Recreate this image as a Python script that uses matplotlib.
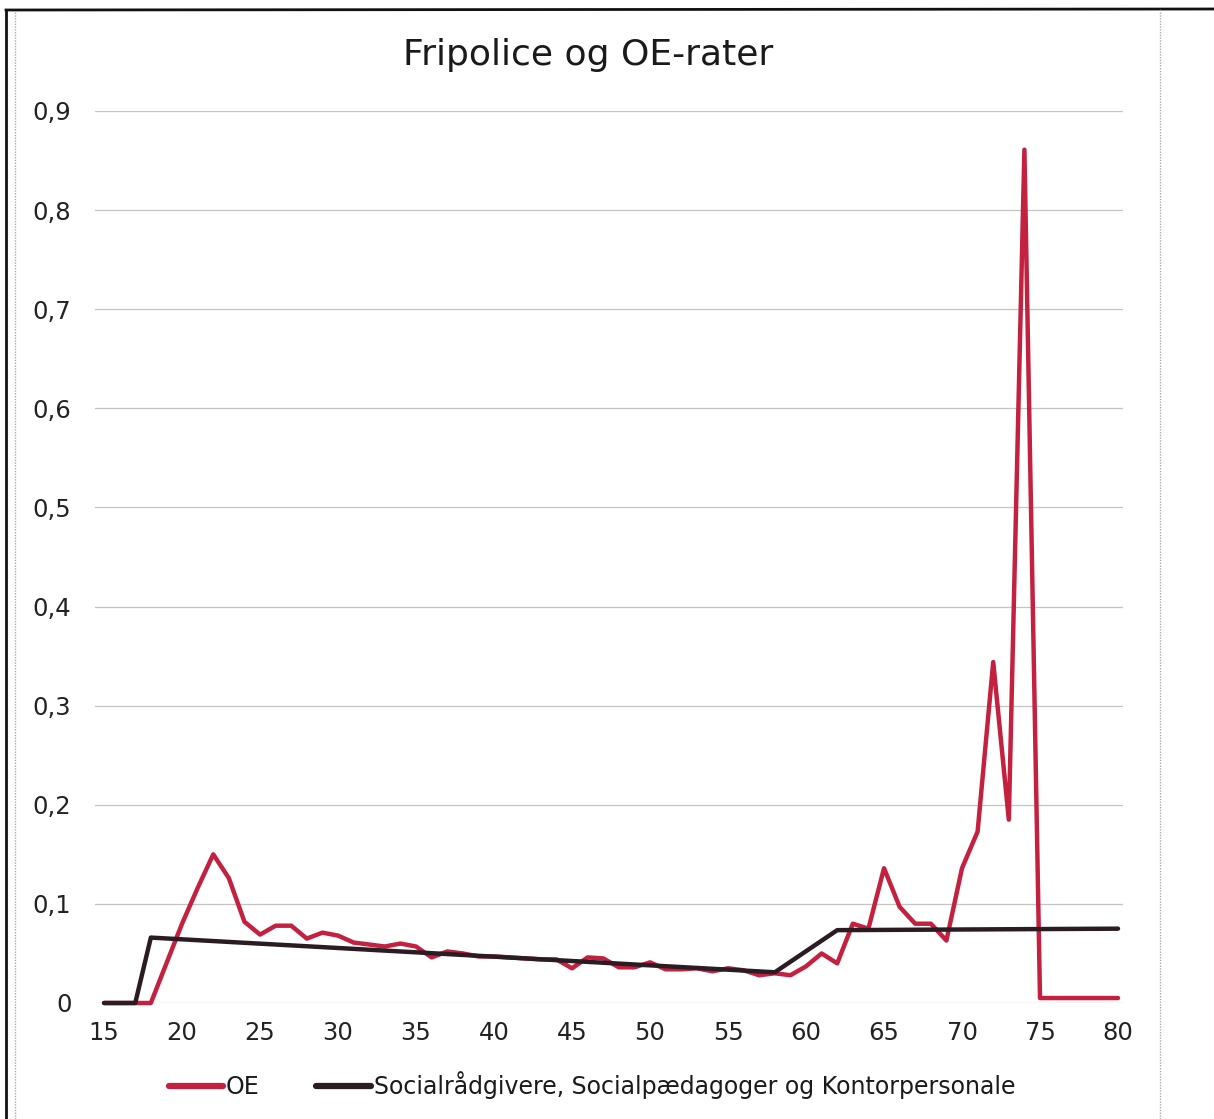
import matplotlib
matplotlib.use("Agg")
import matplotlib.pyplot as plt
from matplotlib.lines import Line2D

# ---- data ----
ages = list(range(15, 81))
oe = [0, 0, 0, 0, 0.040, 0.080, 0.116, 0.150, 0.126, 0.082,
      0.069, 0.078, 0.078, 0.065, 0.071, 0.068, 0.061, 0.059, 0.057, 0.060,
      0.057, 0.046, 0.052, 0.050, 0.047, 0.047, 0.046, 0.045, 0.044, 0.044,
      0.035, 0.046, 0.045, 0.036, 0.036, 0.041, 0.034, 0.034, 0.035, 0.032,
      0.035, 0.033, 0.028, 0.030, 0.028, 0.037, 0.050, 0.040, 0.080, 0.075,
      0.136, 0.097, 0.080, 0.080, 0.063, 0.136, 0.173, 0.344, 0.185, 0.861,
      0.005, 0.005, 0.005, 0.005, 0.005, 0.005]
social_x = [15, 17, 18, 58, 62, 80]
social_y = [0, 0, 0.066, 0.031, 0.0735, 0.075]
xticks = list(range(15, 81, 5))
yticks = [0, 0.1, 0.2, 0.3, 0.4, 0.5, 0.6, 0.7, 0.8, 0.9]
ytick_labels = ["0", "0,1", "0,2", "0,3", "0,4", "0,5", "0,6", "0,7", "0,8", "0,9"]
title = "Fripolice og OE-rater"
label_oe = "OE"
label_social = "Socialrådgivere, Socialpædagoger og Kontorpersonale"

W, H = 1214, 1119
fig = plt.figure(figsize=(W / 100, H / 100), dpi=100)
plt.rcParams['font.family'] = ['DejaVu Sans']

left, right = 95 / W, 1123 / W
bottom, top = 1 - 1003 / H, 1 - 111 / H
ax = fig.add_axes([left, bottom, right - left, top - bottom])

red = "#C4203F"
dark = "#2B1C24"
l1, = ax.plot(ages, oe, color=red, lw=3.2, solid_joinstyle='round',
              solid_capstyle='round', clip_on=False, zorder=3, label=label_oe)
l2, = ax.plot(social_x, social_y, color=dark, lw=3.2, solid_joinstyle='round',
              solid_capstyle='round', clip_on=False, zorder=4, label=label_social)

ax.set_xlim(14.42, 80.32)
ax.set_ylim(0, 0.9)
ax.set_xticks(xticks)
ax.set_yticks(yticks)
ax.set_yticklabels(ytick_labels)
ax.tick_params(length=0, labelsize=17.5, colors="#222222")
ax.tick_params(axis='x', pad=13)
ax.tick_params(axis='y', pad=17)
for s in ax.spines.values():
    s.set_visible(False)
ax.grid(axis='y', color="#c4c4c4", lw=0.9)
ax.set_axisbelow(True)

fig.text(588 / W, 1 - 55 / H, title, ha='center', va='center',
         fontsize=26, color="#1a1a1a")

leg = fig.legend(handles=[l1, l2], loc='center', ncol=2,
                 bbox_to_anchor=(592 / W, 1 - 1085 / H), frameon=False,
                 fontsize=17, handlelength=2.3, handletextpad=0.12,
                 columnspacing=2.4)
for h in leg.legend_handles:
    h.set_linewidth(4.5)
for t in leg.get_texts():
    t.set_color("#1a1a1a")

# scanned page borders
fig.add_artist(Line2D([6 / W, 1], [1 - 10 / H, 1 - 9 / H], color="#111111", lw=2))
fig.add_artist(Line2D([6 / W, 6 / W], [0, 1 - 10 / H], color="#111111", lw=2))
fig.add_artist(Line2D([15 / W, 15 / W], [0, 1 - 12 / H], color="#aaaaaa", lw=1, ls=(0, (1, 1))))
fig.add_artist(Line2D([1160 / W, 1160 / W], [0, 1 - 9 / H], color="#aaaaaa", lw=1, ls=(0, (1, 1))))

fig.savefig("out.png", dpi=100)
